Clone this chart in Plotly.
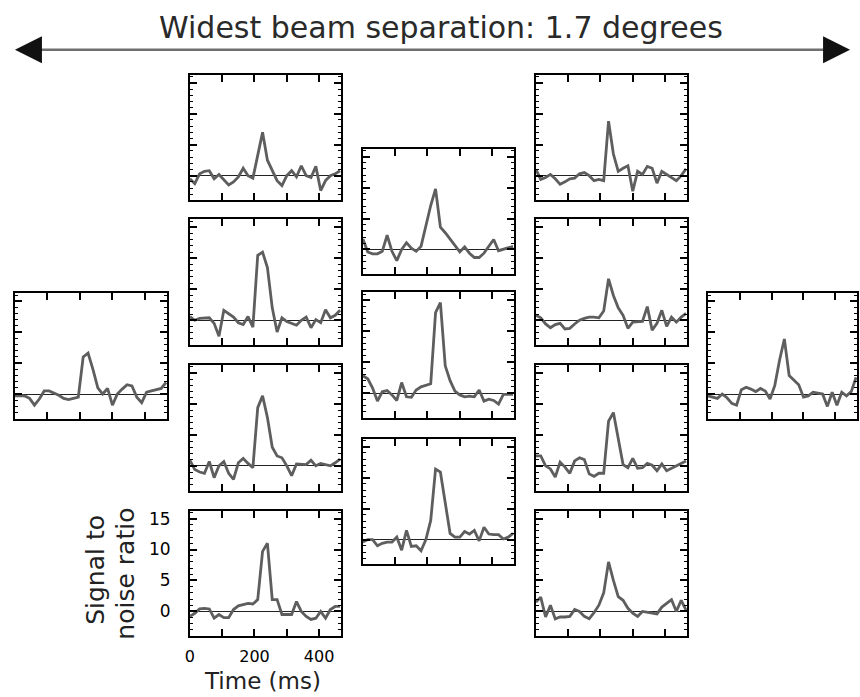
import plotly.graph_objects as go

# ---------------- data ----------------
times_ms = [0, 15, 30, 45, 60, 75, 90, 105, 120, 135, 150, 165, 180, 195, 210, 225,
            240, 255, 270, 285, 300, 315, 330, 345, 360, 375, 390, 405, 420, 435, 450, 465]

snr_far_left = [-0.3, -0.3, -0.3, -0.7, -1.8, -0.8, 0.5, 0.5, 0.2, -0.2, -0.7, -0.9, -0.7, -0.5, 6.0, 6.6,
                4.0, 1.0, 0.0, 0.9, -1.8, 0.0, 0.8, 1.5, 1.3, -0.5, -1.4, 0.3, 0.5, 0.7, 0.9, 1.9]
snr_left_1 = [-0.5, -1.3, 0.3, 0.7, 0.8, -0.5, 0.2, -0.6, -1.5, -1.0, -0.2, 1.2, 0.0, -0.4, 3.5, 7.0,
              2.5, 0.8, -0.8, -1.6, 0.0, 0.8, -0.2, 1.6, 0.0, -0.3, 1.5, -2.4, -0.8, 0.0, 0.3, 0.8]
snr_left_2 = [0.6, 0.0, 0.3, 0.4, 0.4, -0.5, -2.6, 1.6, 1.0, 0.5, -0.4, -0.7, 0.6, -1.1, 10.5, 11.0,
              8.5, 2.0, -1.9, 0.4, -0.2, -0.5, -0.8, 0.0, 0.5, -1.2, 0.1, -0.4, 1.7, 0.4, 0.8, 1.6]
snr_left_3 = [0.9, -0.6, -1.0, -1.2, 0.7, -1.9, 0.0, 0.7, -1.2, -2.2, 0.5, 1.2, 0.4, -0.3, 9.4, 11.3,
              7.8, 3.0, 1.6, 1.3, 0.0, -1.6, 0.3, 0.3, 0.2, 0.9, 0.0, 0.4, 0.2, 0.0, 0.5, 1.1]
snr_left_4 = [-0.8, -0.3, 0.4, 0.5, 0.4, -1.1, -0.5, -1.0, -1.0, 0.3, 0.9, 1.1, 1.3, 1.2, 1.9, 9.7,
              11.0, 1.9, 1.9, -0.5, -0.5, -0.5, 1.6, 0.0, -0.8, -1.3, -1.1, 0.0, -1.1, 0.3, 0.8, 0.8]
snr_centre_1 = [1.7, -0.4, -0.7, -0.7, -0.3, 2.3, -0.3, -1.8, 0.0, 1.1, 0.2, -0.3, 0.5, 3.8, 7.1, 9.8,
                3.6, 2.7, 1.7, 0.6, -0.4, 0.4, -0.6, -1.3, -1.3, -0.6, 0.5, 1.6, -0.2, 0.0, 0.3, 0.5]
snr_centre_2 = [2.8, 2.3, 0.8, -1.3, 0.2, 0.4, -0.3, -1.2, 1.7, -0.6, -0.7, 0.5, 1.0, 1.3, 1.5, 13.0,
                14.6, 4.4, 2.0, 0.3, -0.3, -0.6, -0.5, -0.6, 0.5, -1.3, -1.0, -1.2, -1.8, -0.2, -0.2, -0.2]
snr_centre_3 = [-0.4, 0.0, 0.0, -1.0, -0.6, -0.4, -0.4, 0.4, -1.7, 1.5, -1.1, -1.0, -1.8, 0.0, 3.1, 11.4,
                10.9, 6.0, 1.0, 0.4, 0.4, 1.3, 0.9, 1.5, -0.2, 2.0, 0.9, 0.8, 0.8, 0.1, 0.4, 1.0]
snr_right_1 = [1.0, -0.6, -0.3, 0.2, -0.5, -1.4, -1.0, -0.5, -0.4, 0.3, 0.5, 0.0, -0.8, -0.6, -0.8, 8.8,
               3.5, 0.7, 1.2, 1.6, -2.5, 0.7, 0.2, 1.5, 1.2, -1.2, 0.7, 0.2, -0.2, -0.8, 0.0, 1.1]
snr_right_2 = [0.8, 0.4, -0.6, -1.2, -0.7, -0.5, -1.4, -1.3, -0.6, 0.0, 0.3, 0.5, 0.5, 0.4, 1.5, 6.7,
               4.0, 2.0, 0.8, -1.3, -0.3, -0.2, -0.2, 2.2, -1.6, -0.5, 1.6, -1.0, 0.5, -0.3, 0.5, 1.1]
snr_right_3 = [1.6, 1.6, 0.0, -0.5, -1.8, 0.6, -0.2, -1.2, 0.8, 1.3, 1.0, -1.3, -1.7, -1.2, -1.2, 7.2,
               8.6, 4.3, 0.2, -0.3, 1.2, -0.4, -0.3, 0.4, 0.1, -0.8, 0.3, -0.8, -0.4, 0.0, 0.4, 0.8]
snr_right_4 = [1.5, 2.3, -0.9, 1.0, -1.2, -0.9, -0.9, -0.8, 0.3, 0.0, -0.8, -1.2, -0.2, 1.0, 3.0, 8.0,
               5.0, 2.4, 1.8, 0.5, -0.3, -0.8, 0.0, -0.1, -0.2, -0.4, 0.7, 1.3, 1.9, 0.0, 1.8, 0.2]
snr_far_right = [-0.3, -0.5, -0.7, 0.0, -0.6, -1.5, -1.8, 0.7, 1.1, 0.8, 0.4, 0.9, 0.5, -0.8, 1.4, 5.5,
                 8.9, 3.0, 2.2, 1.5, -0.5, -0.3, 0.3, 0.2, 0.0, -2.0, 0.3, -1.8, 0.3, -0.3, 0.4, 2.7]

x_tick_vals = [0, 100, 200, 300, 400]
x_tick_text = ["0", "", "200", "", "400"]
y_tick_vals = [0, 5, 10, 15]
y_tick_text = ["0", "5", "10", "15"]

title_text = "Widest beam separation: 1.7 degrees"
x_title = "Time (ms)"
y_title_1 = "Signal to"
y_title_2 = "noise ratio"

# ---------------- layout geometry (pixels) ----------------
W, H = 860, 697
PANEL_H = 126
cols_px = {1: (10, 163), 2: (186, 338), 3: (360, 512), 4: (534, 686), 5: (707, 857)}
# (series, column, top pixel, show labels)
panels = [
    (snr_far_left, 1, 292, False),
    (snr_left_1, 2, 73, False),
    (snr_left_2, 2, 218, False),
    (snr_left_3, 2, 364, False),
    (snr_left_4, 2, 510, True),
    (snr_centre_1, 3, 147, False),
    (snr_centre_2, 3, 291, False),
    (snr_centre_3, 3, 438, False),
    (snr_right_1, 4, 73, False),
    (snr_right_2, 4, 218, False),
    (snr_right_3, 4, 364, False),
    (snr_right_4, 4, 510, False),
    (snr_far_right, 5, 292, False),
]

FONT = "DejaVu Sans"
fig = go.Figure()
layout_axes = {}
for i, (vals, col, top, labels) in enumerate(panels, start=1):
    sfx = "" if i == 1 else str(i)
    fig.add_trace(go.Scatter(
        x=times_ms, y=vals, mode="lines",
        line=dict(color="#5e5e5e", width=2.8),
        xaxis="x" + sfx, yaxis="y" + sfx, showlegend=False, hoverinfo="skip",
    ))
    x0, x1 = cols_px[col]
    bottom = top + PANEL_H
    layout_axes["xaxis" + sfx] = dict(
        domain=[x0 / W, x1 / W], range=[0, 468], anchor="y" + sfx,
        showline=True, mirror="ticks", linecolor="black", linewidth=2,
        ticks="inside", ticklen=7, tickwidth=1.6, tickcolor="black",
        tickmode="array", tickvals=x_tick_vals, ticktext=x_tick_text,
        showticklabels=labels, showgrid=False, zeroline=False,
        tickfont=dict(family=FONT, size=16, color="black"),
        ticklabelstandoff=5, fixedrange=True,
    )
    layout_axes["yaxis" + sfx] = dict(
        domain=[1 - bottom / H, 1 - top / H], range=[-4, 16.3], anchor="x" + sfx,
        showline=True, mirror="ticks", linecolor="black", linewidth=2,
        ticks="inside", ticklen=7, tickwidth=1.6, tickcolor="black",
        tickmode="array", tickvals=y_tick_vals, ticktext=y_tick_text,
        minor=dict(dtick=1, tick0=0, ticklen=3.5, ticks="inside", tickwidth=1.4, tickcolor="black"),
        showticklabels=labels, showgrid=False,
        zeroline=True, zerolinecolor="#222222", zerolinewidth=1.3,
        tickfont=dict(family=FONT, size=17, color="black"),
        ticklabelstandoff=14, fixedrange=True,
    )

ARROW_Y = 1 - 48 / H
annotations = [
    dict(text=title_text, x=439 / W, y=1 - 26 / H, xref="paper", yref="paper",
         showarrow=False, font=dict(family=FONT, size=30, color="#2a2a2a"),
         xanchor="center", yanchor="middle"),
    dict(text="", x=10 / W, y=ARROW_Y, xref="paper", yref="paper",
         showarrow=True, ax=24, ay=0, arrowhead=2, arrowsize=2.7, arrowwidth=2,
         arrowcolor="#111111"),
    dict(text="", x=850 / W, y=ARROW_Y, xref="paper", yref="paper",
         showarrow=True, ax=-24, ay=0, arrowhead=2, arrowsize=2.7, arrowwidth=2,
         arrowcolor="#111111"),
    dict(text=x_title, x=259 / W, y=1 - 681 / H, xref="paper", yref="paper",
         showarrow=False, font=dict(family=FONT, size=23, color="#222222"),
         xanchor="center", yanchor="middle"),
    dict(text=y_title_1, x=91 / W, y=1 - 569 / H, xref="paper", yref="paper",
         showarrow=False, textangle=-90, font=dict(family=FONT, size=25, color="#222222"),
         xanchor="center", yanchor="middle"),
    dict(text=y_title_2, x=121 / W, y=1 - 573 / H, xref="paper", yref="paper",
         showarrow=False, textangle=-90, font=dict(family=FONT, size=25, color="#222222"),
         xanchor="center", yanchor="middle"),
]

shapes = [
    dict(type="line", xref="paper", yref="paper", x0=20 / W, x1=840 / W,
         y0=ARROW_Y, y1=ARROW_Y, line=dict(color="#6f6f6f", width=2.5)),
]

fig.update_layout(
    width=W, height=H, margin=dict(l=0, r=0, t=0, b=0),
    paper_bgcolor="white", plot_bgcolor="white",
    annotations=annotations, shapes=shapes, showlegend=False,
    **layout_axes,
)

fig.write_html("out.html", config={"displayModeBar": False},
               post_script="document.body.style.margin='0px';")
